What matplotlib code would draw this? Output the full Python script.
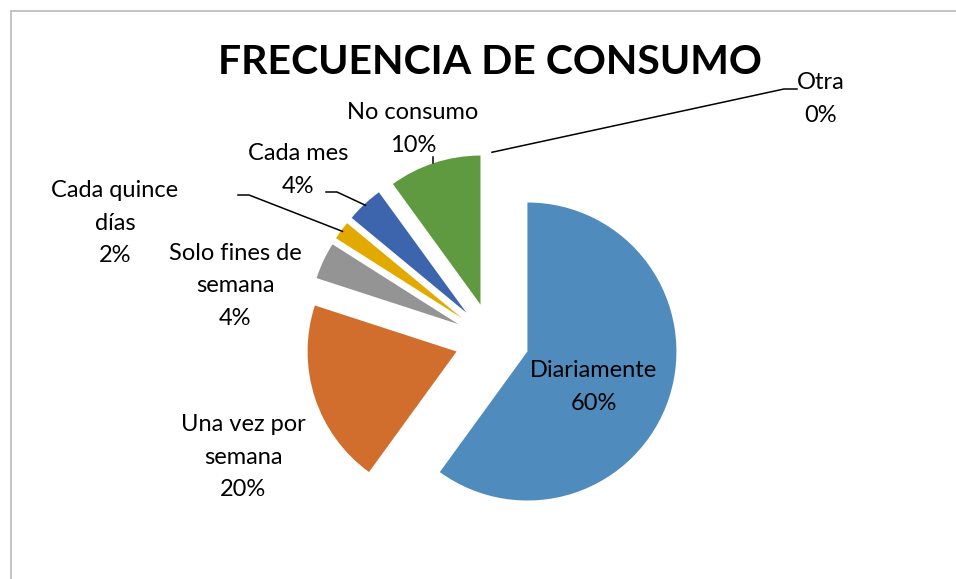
import numpy as np
import matplotlib.pyplot as plt
from matplotlib.lines import Line2D

categorias = ['Diariamente', 'Una vez por\nsemana', 'Solo fines de\nsemana', 'Cada quince\ndías',
              'Cada mes', 'No consumo', 'Otra']
porcentajes = [60, 20, 4, 2, 4, 10, 0]
colores = ['#4F8BBD', '#D26E2D', '#949494', '#E2AA00', '#3D65AD', '#5F9A40', '#A0A0A0']

plt.rcParams['font.family'] = ['Lato', 'DejaVu Sans']

W, H = 956, 579
fig = plt.figure(figsize=(W / 100, H / 100), dpi=100)
ax = fig.add_axes([0, 0, 1, 1])

# pie geometry (pixels, y up)
cx, cy = 492, H - 340
r = 149
exp = 0.25

ax.pie(porcentajes, colors=colores, startangle=90, counterclock=False,
       center=(cx, cy), radius=r, explode=[exp * r] * len(porcentajes),
       wedgeprops=dict(linewidth=0), frame=True)
ax.set_xlim(0, W)
ax.set_ylim(0, H)
ax.set_aspect('equal')
ax.axis('off')

# mid angles (clockwise from top)
cum = np.cumsum([0] + porcentajes)
mid = [(cum[i] + cum[i + 1]) / 2 / 100 * 360 for i in range(len(porcentajes))]


def borde(i, f=1.0):
    a = np.deg2rad(mid[i])
    d = np.array([np.sin(a), np.cos(a)])
    return np.array([cx, cy]) + d * (exp * r + f * r)


def px(x, y):
    return (x, H - y)


# labels: (text x, text y top-down center)
pos = [(594, 387), (243, 457), (235, 286), (115, 223), (298, 170), (413, 129), (821, 99)]
fs = 17
for i, (lab, p) in enumerate(zip(categorias, porcentajes)):
    x, y = pos[i]
    ax.text(*px(x, y), f'{lab}\n{p}%', ha='center', va='center', fontsize=fs,
            linespacing=1.68, color='#000000')


# leader lines
def lider(pts, i, f=0.99):
    e = borde(i, f)
    xs = [p[0] for p in pts] + [e[0]]
    ys = [H - p[1] for p in pts] + [e[1]]
    ax.add_line(Line2D(xs, ys, color='black', lw=1.1))


lider([(238, 195), (249, 195)], 3)
lider([(326, 192), (337, 192)], 4)
lider([(797, 89), (784, 89)], 6, 1.01)
e = borde(5, 1.0)
ax.add_line(Line2D([e[0] - 1, e[0] - 1], [e[1], e[1] + 6], color='black', lw=1.1))

ax.text(*px(490, 62), 'FRECUENCIA DE CONSUMO', ha='center', va='center',
        fontsize=29.5, fontweight='bold', color='#000000')

# chart frame (left and top)
fig.add_artist(Line2D([11 / W, 11 / W], [0, 1 - 11 / H], transform=fig.transFigure,
                      color='#BFBFBF', lw=1.3))
fig.add_artist(Line2D([11 / W, 1], [1 - 11 / H, 1 - 11 / H], transform=fig.transFigure,
                      color='#BFBFBF', lw=1.3))

fig.savefig('out.png', dpi=100, facecolor='white')
